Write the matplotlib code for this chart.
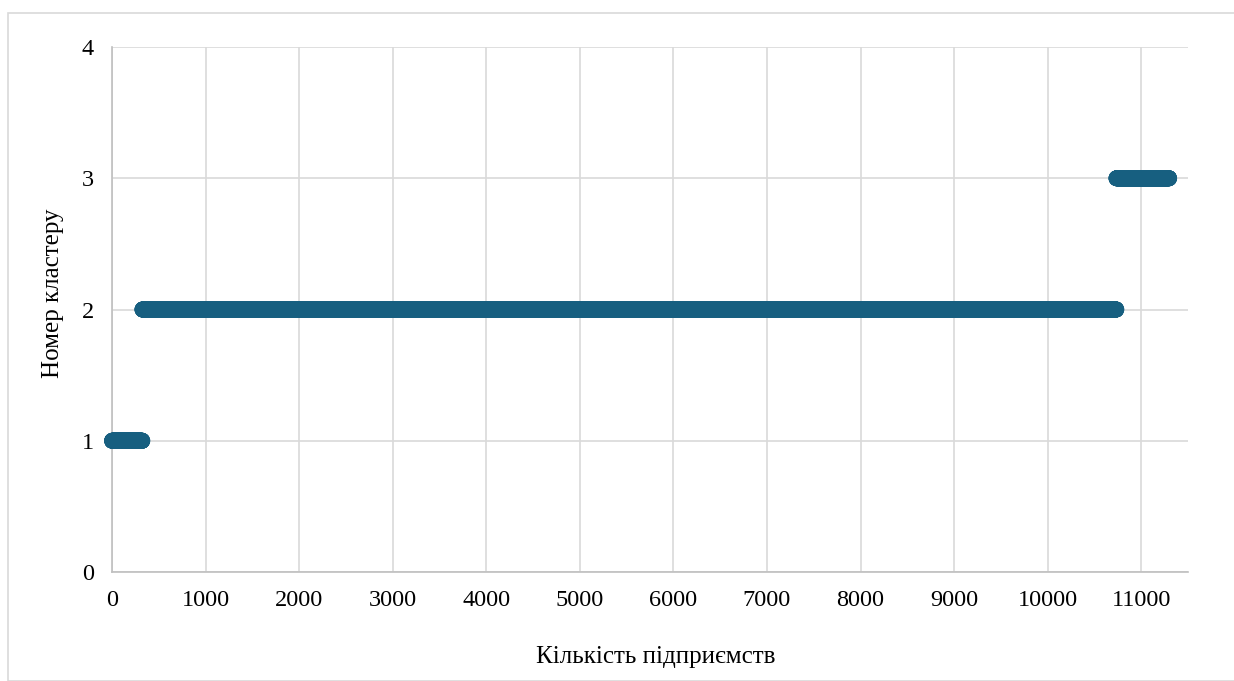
import numpy as np
import matplotlib
matplotlib.use("Agg")
import matplotlib.pyplot as plt
from matplotlib.patches import Rectangle

# Data: cluster ids and number of enterprises in each cluster (sorted by cluster)
cluster_ids = [1, 2, 3]
cluster_counts = [325, 10410, 565]
x_ticks = [0, 1000, 2000, 3000, 4000, 5000, 6000, 7000, 8000, 9000, 10000, 11000]
y_ticks = [0, 1, 2, 3, 4]
x_label = "Кількість підприємств"
y_label = "Номер кластеру"

y = np.repeat(cluster_ids, cluster_counts)
x = np.arange(len(y))

plt.rcParams['font.family'] = ['Liberation Serif', 'DejaVu Serif']

fig = plt.figure(figsize=(12.34, 6.81), dpi=100)
fig.patches.append(Rectangle((8/1234, 0), 1.2, 1 - 13/681, transform=fig.transFigure,
                             fill=False, edgecolor='#d9d9d9', linewidth=1.2))
ax = fig.add_axes([112/1234, (681-572)/681, (1188-112)/1234, (572-47)/681])

ax.scatter(x, y, s=130, color='#175f80', edgecolors='none', zorder=3, clip_on=False)

ax.set_xlim(0, 11500)
ax.set_ylim(0, 4)
ax.set_xticks(x_ticks)
ax.set_yticks(y_ticks)
ax.grid(True, color='#d9d9d9', linewidth=1.2, zorder=0)
ax.tick_params(length=0, labelsize=17.5, pad=13)
ax.tick_params(axis='y', pad=13)
for side in ['top', 'right']:
    ax.spines[side].set_visible(False)
for side in ['left', 'bottom']:
    ax.spines[side].set_color('#bfbfbf')
    ax.spines[side].set_linewidth(1.2)
ax.set_xlabel(x_label, fontsize=18, labelpad=25)
ax.set_ylabel(y_label, fontsize=18, labelpad=13)
ax.xaxis.label.set_x(0.505)
ax.yaxis.label.set_y(0.531)

fig.savefig("out.png", dpi=100)
